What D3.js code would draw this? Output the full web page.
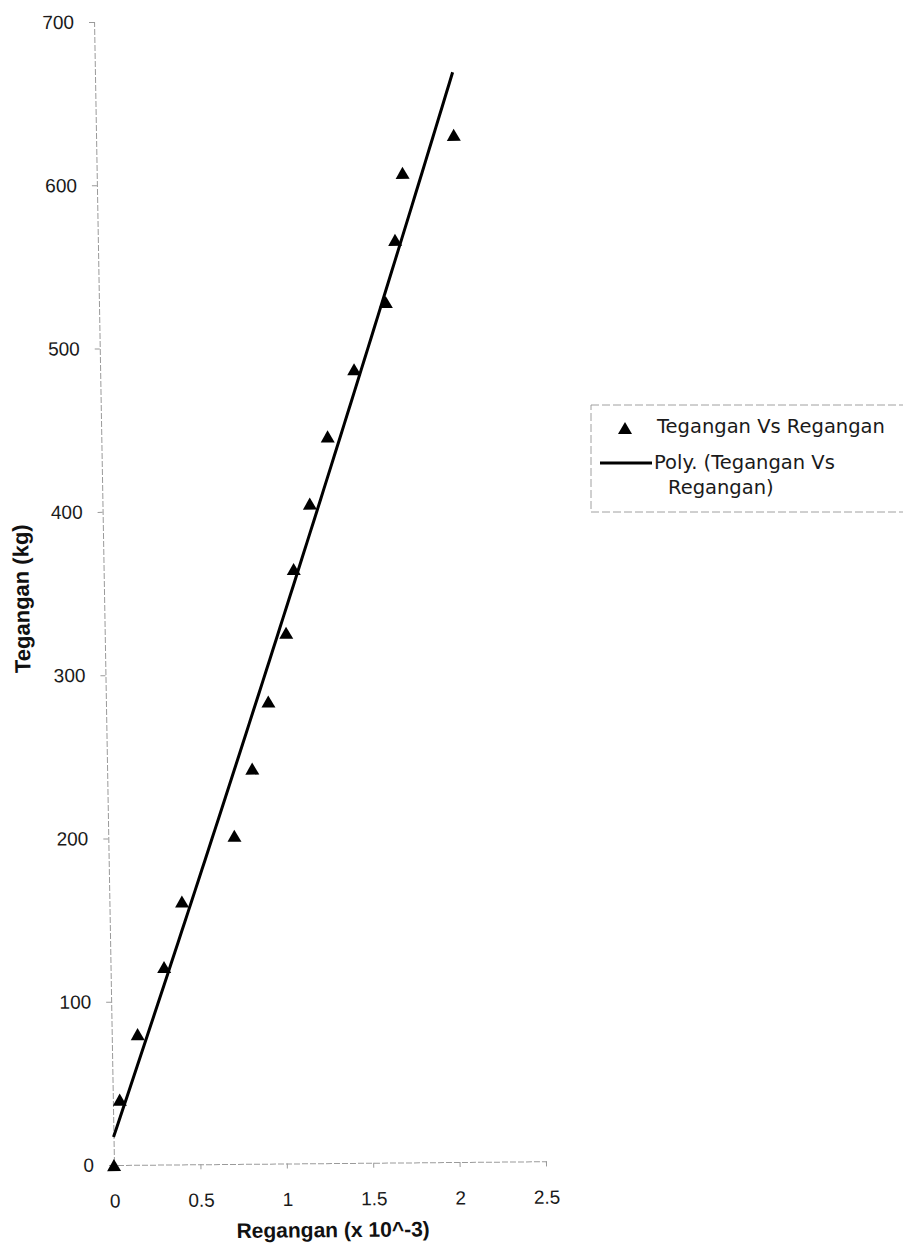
<!DOCTYPE html>
<html>
<head>
<meta charset="utf-8">
<script src="https://cdn.jsdelivr.net/npm/d3@7"></script>
<style>
  html, body { margin: 0; padding: 0; background: #fff; }
  svg { display: block; }
</style>
</head>
<body>
<svg id="chart" width="903" height="1256"></svg>
<script>
// ---- data ----
const regangan = [0, 0.04, 0.15, 0.31, 0.42, 0.73, 0.84, 0.94, 1.05, 1.10, 1.20, 1.31, 1.47, 1.66, 1.72, 1.77, 2.07];
const tegangan = [0, 40, 80, 121, 161, 201, 242, 283, 325, 364, 404, 445, 486, 527, 565, 606, 629];
const xTicks = [0, 0.5, 1, 1.5, 2, 2.5];
const yTicks = [0, 100, 200, 300, 400, 500, 600, 700];
const xTitle = "Regangan (x 10^-3)";
const yTitle = "Tegangan (kg)";
const legendLabels = ["Tegangan Vs Regangan", ["Poly. (Tegangan Vs", "Regangan)"]];

const svg = d3.select("#chart");
const x = d3.scaleLinear().domain([0, 2.5]).range([114, 546]);
const y = d3.scaleLinear().domain([0, 700]).range([1165, 22]);
const font = "'Liberation Sans', Arial, sans-serif";
const legendFont = "'DejaVu Sans', sans-serif";

// plot group with a slight skew like the scanned page
const g = svg.append("g")
  .attr("transform", `translate(${x(0)},${y(0)}) skewX(1) skewY(-0.5) translate(${-x(0)},${-y(0)})`);

// axes
const xAxis = g.append("g").attr("transform", `translate(0,${y(0)})`)
  .call(d3.axisBottom(x).tickValues(xTicks).tickSize(5).tickPadding(24).tickFormat(d3.format("")));
const yAxis = g.append("g").attr("transform", `translate(${x(0)},0)`)
  .call(d3.axisLeft(y).tickValues(yTicks).tickSize(5).tickPadding(15).tickFormat(d3.format("d")));
[xAxis, yAxis].forEach(a => {
  a.select(".domain").attr("stroke", "#9a9a9a").attr("stroke-width", 1).attr("stroke-dasharray", "6,2");
  a.selectAll(".tick line").attr("stroke", "#9a9a9a");
  a.selectAll(".tick text").attr("font-family", font).attr("font-size", 19).attr("fill", "#1a1a1a");
});

// polynomial (order 2) trendline by least squares
function polyfit2(xs, ys) {
  let S = [0,0,0,0,0], T = [0,0,0];
  xs.forEach((xi, i) => {
    for (let k = 0; k < 5; k++) S[k] += Math.pow(xi, k);
    for (let k = 0; k < 3; k++) T[k] += ys[i] * Math.pow(xi, k);
  });
  const A = [[S[0],S[1],S[2],T[0]],[S[1],S[2],S[3],T[1]],[S[2],S[3],S[4],T[2]]];
  for (let i = 0; i < 3; i++) {
    for (let j = i + 1; j < 3; j++) {
      const f = A[j][i] / A[i][i];
      for (let k = i; k < 4; k++) A[j][k] -= f * A[i][k];
    }
  }
  const c = [0,0,0];
  for (let i = 2; i >= 0; i--) {
    let s = A[i][3];
    for (let k = i + 1; k < 3; k++) s -= A[i][k] * c[k];
    c[i] = s / A[i][i];
  }
  return c;
}
const coef = polyfit2(regangan, tegangan);
const xMin = d3.min(regangan), xMax = d3.max(regangan);
const fitPts = d3.range(0, 101).map(i => {
  const xv = xMin + (xMax - xMin) * i / 100;
  return [xv, coef[0] + coef[1] * xv + coef[2] * xv * xv];
});
g.append("path")
  .datum(fitPts)
  .attr("fill", "none").attr("stroke", "#000").attr("stroke-width", 3)
  .attr("d", d3.line().x(d => x(d[0])).y(d => y(d[1])));

// triangle marker centred on its bounding box (spreadsheet style)
const triType = {
  draw(ctx, size) {
    const w = Math.sqrt(size * 4 / Math.sqrt(3));
    const h = w * Math.sqrt(3) / 2;
    ctx.moveTo(0, -h / 2);
    ctx.lineTo(w / 2, h / 2);
    ctx.lineTo(-w / 2, h / 2);
    ctx.closePath();
  }
};
const tri = d3.symbol().type(triType).size(85);
g.selectAll("path.pt")
  .data(regangan.map((v, i) => [v, tegangan[i]]))
  .enter().append("path").attr("class", "pt")
  .attr("d", tri)
  .attr("fill", "#000")
  .attr("transform", d => `translate(${x(d[0])},${y(d[1])})`);

// axis titles
g.append("text")
  .attr("x", 332).attr("y", 1239)
  .attr("text-anchor", "middle")
  .attr("font-family", font).attr("font-weight", "bold").attr("font-size", 21)
  .attr("fill", "#111")
  .text(xTitle);
g.append("text")
  .attr("transform", "translate(39,598) rotate(-90)")
  .attr("text-anchor", "middle")
  .attr("font-family", font).attr("font-weight", "bold").attr("font-size", 22)
  .attr("fill", "#111")
  .text(yTitle);

// legend
const lg = svg.append("g");
lg.append("rect")
  .attr("x", 591).attr("y", 405).attr("width", 330).attr("height", 107)
  .attr("fill", "none").attr("stroke", "#a0a0a0").attr("stroke-width", 1).attr("stroke-dasharray", "8,3");
lg.append("path").attr("d", tri).attr("fill", "#000").attr("transform", "translate(625,428)");
lg.append("text").attr("x", 657).attr("y", 433)
  .attr("font-family", legendFont).attr("font-size", 19.5).attr("fill", "#1a1a1a")
  .text(legendLabels[0]);
lg.append("line").attr("x1", 600).attr("x2", 652).attr("y1", 463).attr("y2", 463)
  .attr("stroke", "#000").attr("stroke-width", 3);
lg.append("text").attr("x", 654).attr("y", 469)
  .attr("font-family", legendFont).attr("font-size", 19.5).attr("fill", "#1a1a1a")
  .text(legendLabels[1][0]);
lg.append("text").attr("x", 668).attr("y", 494)
  .attr("font-family", legendFont).attr("font-size", 19.5).attr("fill", "#1a1a1a")
  .text(legendLabels[1][1]);
</script>
</body>
</html>
